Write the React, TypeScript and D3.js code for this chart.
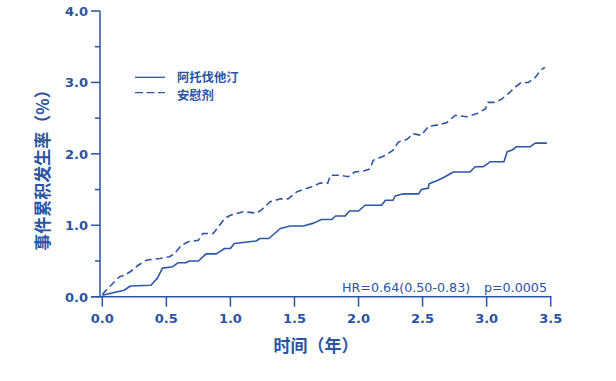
import React from "react";
import * as d3 from "d3";

const atorT = [0, 0.17, 0.22, 0.38, 0.43, 0.47, 0.55, 0.59, 0.65, 0.68, 0.75, 0.81, 0.89, 0.955, 1.0, 1.03, 1.2, 1.23, 1.3, 1.39, 1.465, 1.57, 1.65, 1.71, 1.79, 1.82, 1.895, 1.93, 2.0, 2.05, 2.18, 2.21, 2.27, 2.285, 2.35, 2.47, 2.49, 2.545, 2.55, 2.62, 2.675, 2.74, 2.87, 2.91, 2.975, 3.03, 3.135, 3.16, 3.195, 3.235, 3.34, 3.38, 3.47];
const atorY = [0.02, 0.09, 0.15, 0.16, 0.26, 0.4, 0.42, 0.475, 0.475, 0.5, 0.5, 0.6, 0.6, 0.675, 0.675, 0.745, 0.78, 0.815, 0.815, 0.955, 0.99, 0.99, 1.03, 1.08, 1.08, 1.13, 1.13, 1.2, 1.2, 1.28, 1.28, 1.35, 1.35, 1.41, 1.44, 1.44, 1.5, 1.52, 1.58, 1.63, 1.68, 1.745, 1.745, 1.82, 1.82, 1.89, 1.89, 2.03, 2.05, 2.1, 2.1, 2.15, 2.15];

const placT = [0, 0.045, 0.135, 0.175, 0.226, 0.28, 0.345, 0.38, 0.45, 0.525, 0.565, 0.617, 0.67, 0.75, 0.785, 0.865, 0.89, 0.955, 1.0, 1.1, 1.205, 1.245, 1.31, 1.39, 1.45, 1.52, 1.635, 1.7, 1.76, 1.78, 1.855, 1.92, 1.97, 2.04, 2.09, 2.115, 2.21, 2.27, 2.31, 2.375, 2.43, 2.49, 2.545, 2.635, 2.69, 2.755, 2.845, 2.92, 2.99, 3.01, 3.065, 3.12, 3.18, 3.22, 3.27, 3.325, 3.38, 3.42, 3.455];
const placY = [0.03, 0.12, 0.28, 0.3, 0.36, 0.44, 0.51, 0.52, 0.535, 0.56, 0.605, 0.72, 0.77, 0.79, 0.885, 0.885, 0.94, 1.095, 1.14, 1.19, 1.17, 1.22, 1.33, 1.37, 1.37, 1.47, 1.54, 1.59, 1.59, 1.7, 1.7, 1.68, 1.745, 1.76, 1.79, 1.91, 1.98, 2.05, 2.165, 2.2, 2.28, 2.26, 2.385, 2.41, 2.44, 2.54, 2.52, 2.56, 2.63, 2.72, 2.72, 2.77, 2.86, 2.93, 3.0, 3.0, 3.07, 3.17, 3.21];

const xTicks = [0, 0.5, 1.0, 1.5, 2.0, 2.5, 3.0, 3.5];
const yMajor = [0, 1, 2, 3, 4];
const yMinor = [0.5, 1.5, 2.5, 3.5];
const seriesNames = ["阿托伐他汀", "安慰剂"];
const statText = "HR=0.64(0.50-0.83)";
const pText = "p=0.0005";

const C = "#2a54a0";
const LINE = "#2d57a5";

export default function App() {
  const x = d3.scaleLinear().domain([0, 3.5]).range([102.3, 550.7]);
  const y = d3.scaleLinear().domain([0, 4]).range([296.7, 11]);
  const axisX = 100;
  const line = d3.line<[number, number]>().x((d) => x(d[0])).y((d) => y(d[1]));
  const atorPts = atorT.map((t, i) => [t, atorY[i]] as [number, number]);
  const placPts = placT.map((t, i) => [t, placY[i]] as [number, number]);
  const tickFont = "'DejaVu Sans', sans-serif";
  const cjk = "'Noto Sans CJK SC', sans-serif";
  return (
    <div style={{ position: "absolute", left: 0, top: 0 }}>
      <svg width={616} height={381} style={{ display: "block" }}>
        <rect width={616} height={381} fill="#fff" />
        {/* y axis */}
        <line x1={axisX} x2={axisX} y1={y(4)} y2={y(0)} stroke={C} strokeWidth={1.5} />
        {yMajor.map((v) => (
          <g key={"ym" + v}>
            <line x1={axisX - 9} x2={axisX} y1={y(v)} y2={y(v)} stroke={C} strokeWidth={1.5} />
            <text x={88} y={y(v) + 5} textAnchor="end" fontFamily={tickFont} fontWeight={700} fontSize={13} fill={C}>
              {v.toFixed(1)}
            </text>
          </g>
        ))}
        {yMinor.map((v) => (
          <line key={"yn" + v} x1={axisX - 5} x2={axisX} y1={y(v)} y2={y(v)} stroke={C} strokeWidth={1.5} />
        ))}
        {/* x axis */}
        <line x1={axisX - 9} x2={x(3.5) + 0.75} y1={y(0)} y2={y(0)} stroke={C} strokeWidth={1.5} />
        {xTicks.map((v) => (
          <g key={"xt" + v}>
            <line x1={x(v)} x2={x(v)} y1={y(0)} y2={y(0) + 10} stroke={C} strokeWidth={1.5} />
            <text x={x(v)} y={322.5} textAnchor="middle" fontFamily={tickFont} fontWeight={700} fontSize={13} fill={C}>
              {v.toFixed(1)}
            </text>
          </g>
        ))}
        {/* curves */}
        <path d={line(atorPts) || ""} fill="none" stroke={LINE} strokeWidth={1.6} strokeLinejoin="round" />
        <path d={line(placPts) || ""} fill="none" stroke={LINE} strokeWidth={1.6} strokeDasharray="7,4" />
        {/* legend */}
        <line x1={135} x2={165} y1={77.3} y2={77.3} stroke={LINE} strokeWidth={1.3} />
        <line x1={135} x2={165} y1={92.7} y2={92.7} stroke={LINE} strokeWidth={1.3} strokeDasharray="8,3.5" />
        <text x={177} y={82.2} fontFamily={cjk} fontWeight={700} fontSize={12.3} fill={C}>{seriesNames[0]}</text>
        <text x={177} y={100.4} fontFamily={cjk} fontWeight={700} fontSize={12.3} fill={C}>{seriesNames[1]}</text>
        {/* stats */}
        <text x={342} y={291.5} fontFamily={tickFont} fontSize={12.7} fill={C}>{statText}</text>
        <text x={547} y={291.5} textAnchor="end" fontFamily={tickFont} fontSize={12.7} fill={C}>{pText}</text>
        {/* axis titles */}
        <text x={316} y={352} textAnchor="middle" fontFamily={cjk} fontWeight={700} fontSize={17} fill={C}>时间（年）</text>
        <text transform="translate(49,166) rotate(-90)" textAnchor="middle" fontFamily={cjk} fontWeight={700} fontSize={17} fill={C}>事件累积发生率（%）</text>
      </svg>
    </div>
  );
}
